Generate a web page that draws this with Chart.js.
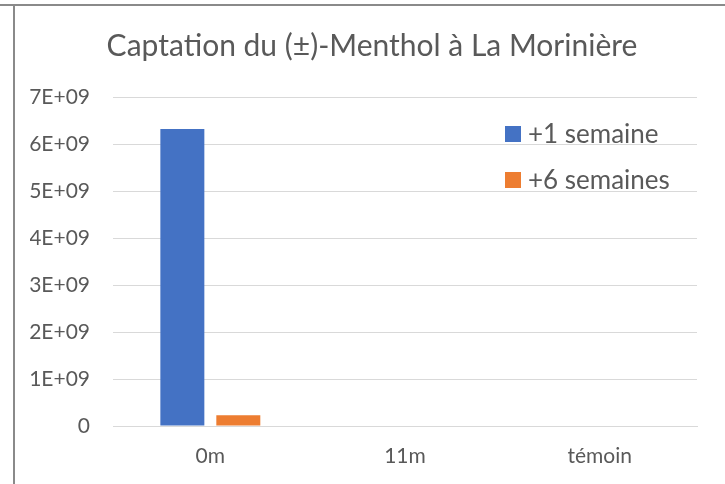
<!DOCTYPE html>
<html>
<head>
<meta charset="utf-8">
<script src="https://cdn.jsdelivr.net/npm/chart.js@4/dist/chart.umd.min.js"></script>
<style>
  html, body { margin: 0; padding: 0; background: #fff; }
  #wrap { position: relative; width: 725px; height: 484px; overflow: hidden; }
  #wrap canvas { position: absolute; left: 0; top: 0; }
  .trait-h { position: absolute; left: 0; top: 4px; width: 725px; height: 2px; background: #8a8a8a; }
  .trait-v { position: absolute; left: 13px; top: 4px; width: 2px; height: 480px; background: #8a8a8a; }
</style>
</head>
<body>
<div id="wrap">
  <canvas id="graphe" width="725" height="484"></canvas>
  <div class="trait-h"></div>
  <div class="trait-v"></div>
</div>
<script>
// Données
const categories = ['0m', '11m', 'témoin'];
const uneSemaine = [6.32e9, 0, 0];
const sixSemaines = [2.3e8, 0, 0];
const titre = 'Captation du (±)-Menthol à La Morinière';

const GRIS_TEXTE = '#595959';
const POLICE = 'Lato, "Open Sans", sans-serif';

const pad2 = (n) => String(n).padStart(2, '0');

// format Excel 0E+00
function sci(v) {
  if (v === 0) return '0';
  const e = Math.floor(Math.log10(Math.abs(v)));
  const m = Math.round(v / Math.pow(10, e));
  return `${m}E${e >= 0 ? '+' : '-'}${pad2(Math.abs(e))}`;
}

// titre + légende dessinés à la main (placement comme Excel)
const decorExcel = {
  id: 'decorExcel',
  afterDraw(chart) {
    const { ctx, chartArea } = chart;
    ctx.save();

    // titre, un peu décalé à droite du centre
    ctx.font = `30px ${POLICE}`;
    ctx.fillStyle = GRIS_TEXTE;
    ctx.textAlign = 'center';
    ctx.textBaseline = 'middle';
    ctx.fillText(titre, chart.width / 2 + 9.5, 46);

    // légende dans la zone du graphique
    const x0 = chartArea.right - 192;
    let y = chartArea.top + 37;
    ctx.font = `26px ${POLICE}`;
    ctx.textAlign = 'left';
    chart.data.datasets.forEach(ds => {
      ctx.fillStyle = ds.backgroundColor;
      ctx.fillRect(x0, y - 8, 16, 16);
      ctx.fillStyle = GRIS_TEXTE;
      ctx.fillText(ds.label, x0 + 23, y + 1);
      y += 46;
    });
    ctx.restore();
  }
};

const ctx = document.getElementById('graphe').getContext('2d');
new Chart(ctx, {
  type: 'bar',
  data: {
    labels: categories,
    datasets: [
      { label: '+1 semaine', data: uneSemaine, backgroundColor: '#4472C4' },
      { label: '+6 semaines', data: sixSemaines, backgroundColor: '#ED7D31' }
    ]
  },
  options: {
    responsive: false,
    animation: false,
    devicePixelRatio: 1,
    layout: { padding: { left: 30, right: 28, top: 97, bottom: 0 } },
    datasets: { bar: { categoryPercentage: 0.575, barPercentage: 0.786 } },
    plugins: {
      legend: { display: false },
      tooltip: { enabled: false },
      title: { display: false }
    },
    scales: {
      x: {
        grid: { display: false, drawTicks: false },
        border: { display: true, color: '#d9d9d9', width: 1 },
        ticks: { color: GRIS_TEXTE, font: { family: POLICE, size: 21 }, padding: 18 },
        afterFit(scale) { scale.height = 58; }
      },
      y: {
        min: 0,
        max: 7e9,
        grid: { color: '#d9d9d9', lineWidth: 1, drawTicks: false },
        border: { display: false },
        ticks: {
          stepSize: 1e9,
          color: GRIS_TEXTE,
          font: { family: POLICE, size: 21 },
          padding: 23,
          callback: (v) => sci(v)
        },
        afterFit(scale) { scale.width = 83; }
      }
    }
  },
  plugins: [decorExcel]
});
</script>
</body>
</html>
